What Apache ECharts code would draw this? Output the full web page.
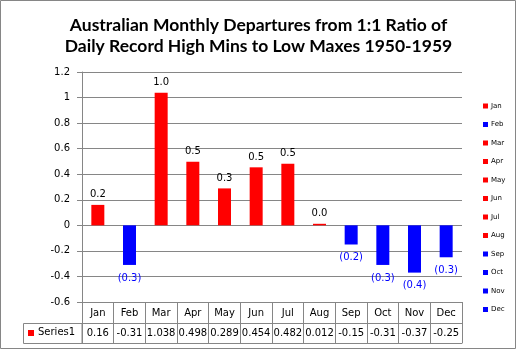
<!DOCTYPE html>
<html>
<head>
<meta charset="utf-8">
<script src="https://cdn.jsdelivr.net/npm/echarts@6/dist/echarts.min.js"></script>
<style>
  html, body { margin: 0; padding: 0; background: #fff; }
  #chart { width: 517px; height: 350px; }
</style>
</head>
<body>
<div id="chart"></div>
<script>
// chart data
const months = ["Jan", "Feb", "Mar", "Apr", "May", "Jun", "Jul", "Aug", "Sep", "Oct", "Nov", "Dec"];
const values = [0.16, -0.31, 1.038, 0.498, 0.289, 0.454, 0.482, 0.012, -0.15, -0.31, -0.37, -0.25];
const yTicks = { min: -0.6, max: 1.2, interval: 0.2 };

const gray = "#868686";
const font = "DejaVu Sans";

let dom = document.getElementById("chart");
let myChart = echarts.init(dom, null, { renderer: "canvas" });

function oneDecimal(v) {
  return (Math.round(Math.abs(v) * 10) / 10).toFixed(1);
}

// one series per month, stacked so bars stay centred in their category
const seriesList = months.map(function (m, i) {
  const v = values[i];
  const pos = v >= 0;
  return {
    type: "bar",
    name: m,
    stack: "all",
    barWidth: 13,
    data: values.map(function (val, j) { return j === i ? val : "-"; }),
    itemStyle: { color: pos ? "#ff0000" : "#0000ff" },
    label: {
      show: true,
      position: pos ? "top" : "bottom",
      distance: pos ? 5 : 8,
      fontFamily: font,
      fontSize: 10,
      color: pos ? "#000" : "#0000ff",
      formatter: function (p) {
        return p.value >= 0 ? oneDecimal(p.value) : "(" + oneDecimal(p.value) + ")";
      }
    },
    emphasis: { disabled: true },
    animation: false
  };
});

option = {
  animation: false,
  title: {
    text: "Australian Monthly Departures from 1:1 Ratio of\nDaily Record High Mins to Low Maxes 1950-1959",
    left: "center",
    top: 10,
    textStyle: { fontFamily: "Lato", fontWeight: "bold", fontSize: 17.5, lineHeight: 21, color: "#000" }
  },
  legend: {
    orient: "vertical",
    left: 478,
    top: 97,
    itemWidth: 5,
    itemHeight: 5,
    itemGap: 10.5,
    icon: "rect",
    selectedMode: false,
    textStyle: { fontFamily: font, fontSize: 7, lineHeight: 8, color: "#000", padding: [0, 0, 0, -2] },
    data: months
  },
  grid: { left: 82, right: 55, top: 72, bottom: 48, containLabel: false },
  xAxis: [
    {
      type: "category",
      data: months,
      position: "bottom",
      axisLine: { show: true, onZero: false, lineStyle: { color: gray } },
      axisTick: { show: true, length: 41, lineStyle: { color: gray } },
      axisLabel: { interval: 0, margin: 6, fontFamily: font, fontSize: 10, color: "#000" },
      splitLine: { show: false }
    },
    {
      type: "category",
      data: values.map(function (v) { return String(v); }),
      position: "bottom",
      offset: 21,
      axisLine: { show: true, onZero: false, lineStyle: { color: gray } },
      axisTick: { show: false },
      axisLabel: { interval: 0, hideOverlap: false, margin: 5, fontFamily: font, fontSize: 10, color: "#000" }
    },
    {
      type: "category",
      data: months,
      position: "bottom",
      offset: 41,
      axisLine: { show: true, onZero: false, lineStyle: { color: gray } },
      axisTick: { show: false },
      axisLabel: { show: false }
    }
  ],
  yAxis: {
    type: "value",
    min: yTicks.min,
    max: yTicks.max,
    interval: yTicks.interval,
    axisLine: { show: true, lineStyle: { color: gray } },
    axisTick: { show: true, length: 5, lineStyle: { color: gray } },
    axisLabel: {
      margin: 12,
      fontFamily: font,
      fontSize: 10,
      color: "#000",
      formatter: function (v) { return String(Math.round(v * 10) / 10); }
    },
    splitLine: { show: true, lineStyle: { color: gray } }
  },
  graphic: [
    // outer frame
    { type: "rect", shape: { x: 0.5, y: 0.5, width: 515, height: 348 }, style: { fill: null, stroke: gray, lineWidth: 1 }, silent: true },
    // Series1 cell of the data table
    { type: "rect", shape: { x: 23.5, y: 323.5, width: 58.5, height: 20 }, style: { fill: null, stroke: gray, lineWidth: 1 }, silent: true },
    { type: "rect", shape: { x: 28, y: 330, width: 6, height: 6 }, style: { fill: "#ff0000" }, silent: true },
    { type: "text", left: 38, top: 327, style: { text: "Series1", fontFamily: font, fontSize: 10, fill: "#000" }, silent: true }
  ],
  series: seriesList
};

myChart.setOption(option);

window.addEventListener("resize", function () {
  if (myChart) {
    myChart.resize();
  }
});
</script>
</body>
</html>
